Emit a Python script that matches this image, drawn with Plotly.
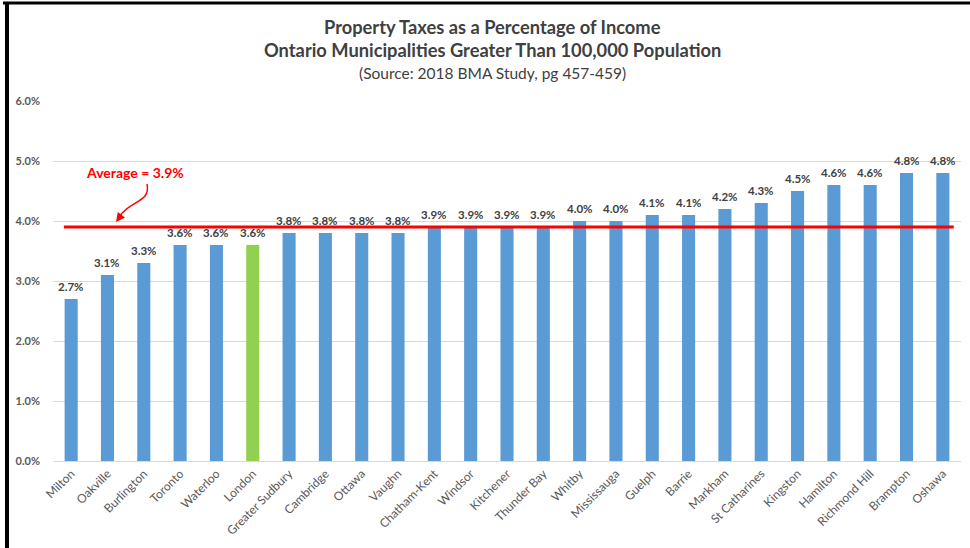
import plotly.graph_objects as go

municipalities = ["Milton", "Oakville", "Burlington", "Toronto", "Waterloo", "London",
                  "Greater Sudbury", "Cambridge", "Ottawa", "Vaughn", "Chatham-Kent",
                  "Windsor", "Kitchener", "Thunder Bay", "Whitby", "Mississauga", "Guelph",
                  "Barrie", "Markham", "St Catharines", "Kingston", "Hamilton",
                  "Richmond Hill", "Brampton", "Oshawa"]
tax_pct = [2.7, 3.1, 3.3, 3.6, 3.6, 3.6, 3.8, 3.8, 3.8, 3.8, 3.9, 3.9, 3.9, 3.9,
           4.0, 4.0, 4.1, 4.1, 4.2, 4.3, 4.5, 4.6, 4.6, 4.8, 4.8]
highlight = "London"
average = 3.9
y_ticks = [0, 1, 2, 3, 4, 5, 6]

BLUE = "#5B9BD5"
GREEN = "#92D050"
GREY = "#595959"
FONT = "Lato, Open Sans, sans-serif"

colors = [GREEN if m == highlight else BLUE for m in municipalities]

fig = go.Figure()
fig.add_trace(go.Bar(
    x=municipalities, y=tax_pct,
    marker=dict(color=colors, line=dict(width=0)),
    cliponaxis=False,
    hoverinfo="x+y",
))

L, R, T, B = 53, 9, 101, 87
W, H = 970, 548
pw, ph = W - L - R, H - T - B

def px(x):
    return (x - L) / pw

def py(y):
    return (H - B - y) / ph

shapes = [
    # average line
    dict(type="line", xref="x", yref="y", x0=-0.2, x1=24.3, y0=average, y1=average,
         line=dict(color="#FF0000", width=3)),
    # curved arrow body
    dict(type="path", xref="paper", yref="paper",
         path=f"M {px(147)},{py(184)} C {px(151)},{py(203)} {px(130)},{py(200)} {px(119)},{py(217)}",
         line=dict(color="#FF0000", width=1.5)),
    # frame lines
    dict(type="line", xref="paper", yref="paper", x0=px(3), x1=px(970), y0=py(3), y1=py(3),
         line=dict(color="black", width=3)),
    dict(type="line", xref="paper", yref="paper", x0=px(7), x1=px(7), y0=py(2), y1=py(548),
         line=dict(color="black", width=4)),
]

def label(text, x, y, size, color="#404040"):
    return dict(text=text, xref="paper", yref="paper", x=px(x), y=py(y),
                xanchor="center", yanchor="middle", showarrow=False,
                font=dict(family=FONT, size=size, color=color))

annotations = [
    label("<b>Property Taxes as a Percentage of Income</b>", 492, 27, 18.3),
    label("<b>Ontario Municipalities Greater Than 100,000 Population</b>", 492, 50, 18.3),
    label("(Source: 2018 BMA Study, pg 457-459)", 492, 73, 15.5),
    label("<b>Average = 3.9%</b>", 135, 172, 14, "#FF0000"),
    dict(text="", xref="paper", yref="paper", x=px(116), y=py(222),
         ax=6, ay=-8, axref="pixel", ayref="pixel",
         showarrow=True, arrowhead=2, arrowsize=1.2, arrowwidth=1.5, arrowcolor="#FF0000"),
]

# value labels above bars
for m, v in zip(municipalities, tax_pct):
    annotations.append(dict(
        text=f"<b>{v:.1f}%</b>", x=m, y=v, xref="x", yref="y",
        xanchor="center", yanchor="middle", yshift=13, showarrow=False,
        font=dict(family=FONT, size=11.5, color="#404040"),
    ))

fig.update_layout(
    width=W, height=H,
    margin=dict(l=L, r=R, t=T, b=B, pad=0, autoexpand=False),
    paper_bgcolor="white", plot_bgcolor="white",
    bargap=0.64,
    showlegend=False,
    shapes=shapes,
    annotations=annotations,
    font=dict(family=FONT, color=GREY),
    xaxis=dict(
        tickangle=-45, tickfont=dict(family=FONT, size=12, color=GREY),
        showline=True, linecolor="#D9D9D9", linewidth=1,
        showgrid=False, ticks="", fixedrange=True, automargin=False,
    ),
    yaxis=dict(
        range=[0, 6], tickvals=y_ticks, ticktext=[f"{v:.1f}%" for v in y_ticks],
        tickfont=dict(family=FONT, size=11, color=GREY, weight="bold"),
        showgrid=True, gridcolor="#D9D9D9", gridwidth=1,
        zeroline=True, zerolinecolor="#D9D9D9", zerolinewidth=1,
        showline=False, ticks="", ticklabelstandoff=12, fixedrange=True, automargin=False,
    ),
)

fig.write_html("out.html", config={"displayModeBar": False},
               post_script="document.body.style.margin='0';document.body.style.overflow='hidden';")
